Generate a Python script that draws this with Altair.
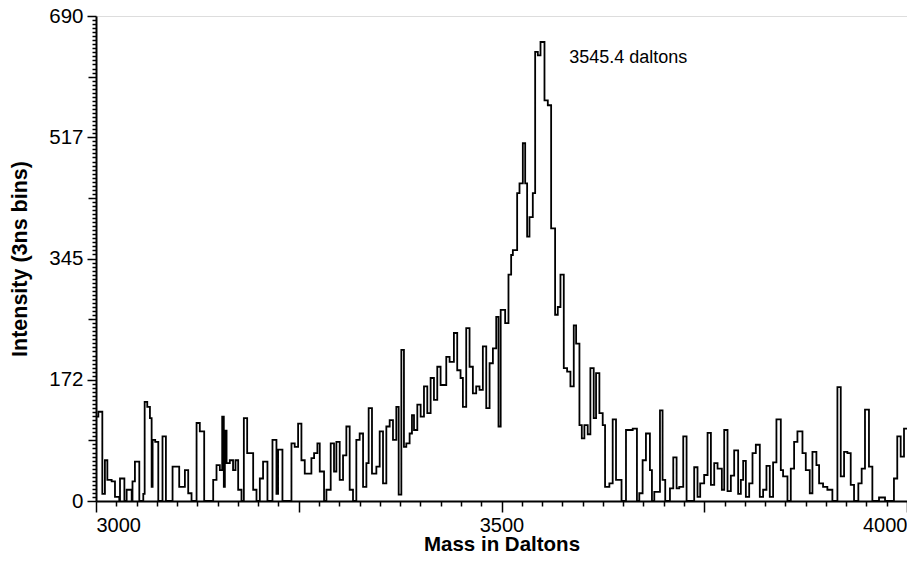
import altair as alt
import pandas as pd

# Step-spectrum: bin start mass (Daltons) and intensity (counts per 3ns bin)
mass = [
    3000, 3002.9, 3007.8, 3011, 3014, 3019.3, 3023.4, 3028.7, 3029.6, 3035,
    3037.8, 3044, 3045, 3048, 3053.4, 3058.3, 3060, 3063.2, 3066.5, 3068.6,
    3069.8, 3073, 3076.8, 3082, 3086.2, 3094.4, 3102.6, 3109.6, 3113.7, 3117.8,
    3124, 3128, 3133.4, 3144.5, 3148.6, 3152.7, 3155.6, 3157.6, 3158.9, 3161,
    3165, 3169, 3172, 3175.3, 3179.4, 3182.3, 3186.4, 3193.8, 3197.9, 3202,
    3206, 3211.4, 3217.6, 3222.5, 3224.5, 3229.9, 3241, 3245,
    3249.2, 3253.3, 3257.4, 3265.6, 3268.9, 3273, 3275.9, 3281.2, 3284.1, 3289.4,
    3293.5, 3296.4, 3300.5, 3304.6, 3308.7, 3312.8, 3316.9, 3321, 3325.1, 3329.3,
    3333.4, 3336.2, 3340.3, 3345.7, 3349.8, 3353.9, 3358, 3362.1, 3366.2, 3370.3,
    3373.2, 3376.5, 3379.7, 3382.6, 3386.7, 3389.6, 3392.1, 3396.2, 3400.3, 3404.4,
    3408.5, 3412.6, 3416.7, 3420.8, 3424.9, 3431.9, 3436, 3441.3, 3445.4, 3449.5,
    3452.4, 3456.5, 3460.6, 3464.7, 3468.8, 3472.9, 3477, 3481.2, 3485.3, 3489.4,
    3493.5, 3496.3, 3499,
    3504.5, 3508.6, 3511.9, 3514, 3519.3, 3522.2, 3526.3, 3529.2, 3531.6, 3534.5,
    3538.6, 3541.5, 3544.8, 3548.1, 3553, 3557.1, 3561.2, 3566.1, 3569.4, 3572.7,
    3576.8, 3580.9, 3585, 3589.1, 3592, 3596.1, 3599, 3602.2, 3606.3, 3609.6,
    3613.7, 3616.6, 3620.7, 3624.8, 3627.7, 3633, 3637.1, 3641.2, 3648, 3653.5,
    3661.8, 3667,
    3669.9, 3674, 3678.1, 3683, 3685.5, 3688.4, 3695.4, 3698.6, 3701.9, 3707.7,
    3711.8, 3715.9, 3719.2, 3724.1, 3728.2, 3737.6, 3741.7, 3745, 3749.9, 3754.1,
    3758.2, 3762.3, 3766.4, 3771.7, 3774.6, 3778.7, 3782.8, 3786.9, 3791.8, 3795.1,
    3798, 3801.3, 3805.4, 3809.5, 3813.6, 3818.5, 3822.6, 3826.7, 3830.8, 3834.9,
    3839, 3844.4, 3847.2, 3852.6, 3856.7, 3860.8, 3864.9, 3871.1, 3875.2, 3880.1,
    3883.4, 3888.3, 3891.6, 3896.5, 3901.8, 3908, 3914.2, 3918.3, 3922.4, 3926.5,
    3930.6, 3934.7, 3940, 3944.1, 3948.2, 3953.1, 3957.3, 3965.5, 3972.9, 3983.9,
    3988, 3992.2, 3996.3, 4000,
]
intensity = [
    120, 127, 10, 58, 30, 28, 6, 0, 32, 0,
    16, 0, 28, 56, 0, 10, 141, 134, 118, 20,
    87, 84, 0, 92, 0, 49, 20, 44, 11, 0,
    111, 99, 0, 30, 51, 44, 120, 20, 100, 54,
    58, 44, 58, 16, 0, 118, 68, 16, 0, 32,
    56, 0, 87, 10, 73, 0, 82, 77,
    110, 58, 39, 61, 68, 82, 42, 0, 16, 82,
    42, 84, 30, 65, 106, 16, 0, 87, 96, 20,
    54, 132, 39, 49, 99, 25, 106, 115, 87, 134,
    9, 215, 77, 82, 96, 122, 101, 137, 120, 163,
    125, 175, 144, 191, 165, 205, 198, 239, 186, 175,
    134, 246, 191, 153, 163, 158, 220, 132, 196, 217,
    262, 106, 272,
    253, 322, 350, 357, 438, 452, 509, 452, 376, 404,
    438, 639, 634, 653, 570, 563, 388, 265, 276, 322,
    189, 184, 163, 250, 224, 108, 89, 108, 95, 189,
    118, 182, 125, 108, 20, 25, 116, 30, 0, 101,
    103, 0,
    11, 58, 96, 44, 0, 13, 129, 30, 0, 18,
    62, 18, 20, 92, 0, 48, 6, 25, 37, 97,
    23, 54, 46, 16, 101, 14, 36, 72, 10, 30,
    57, 6, 25, 68, 80, 6, 16, 50, 6, 55,
    116, 44, 35, 0, 46, 84, 99, 68, 44, 11,
    70, 51, 25, 20, 16, 0, 162, 35, 70, 68,
    23, 0, 25, 46, 130, 49, 0, 5, 0, 32,
    92, 63, 103, 103,
]

ann_mass = [3583.5]
ann_int = [630]
ann_text = ["3545.4 daltons"]

x_ticks = [3000 + 25 * i for i in range(41)]
y_ticks = [5.75 * i for i in range(121)]

FONT = "Liberation Sans, Arial, Helvetica, sans-serif"
W, H = 811, 485

df = pd.DataFrame({"mass": mass, "intensity": intensity})
ann = pd.DataFrame({"mass": ann_mass, "intensity": ann_int, "label": ann_text})

x_axis = alt.Axis(
    values=x_ticks,
    format="d",
    labelExpr="datum.value % 500 === 0 ? datum.label : ''",
    labelFlush=True,
    labelOverlap=False,
    tickSize={"condition": {"test": "datum.value % 250 === 0", "value": 11}, "value": 5},
    tickWidth=1.5,
    tickColor="black",
    domainColor="black",
    domainWidth=2,
    grid=False,
    labelFont=FONT,
    labelFontSize=20,
    labelColor="black",
    labelPadding=3,
    title="Mass in Daltons",
    titleFont=FONT,
    titleFontSize=20.5,
    titleFontWeight="bold",
    titleColor="black",
    titleX=W / 2,
    titleY=33,
    titleBaseline="top",
)

y_axis = alt.Axis(
    values=y_ticks,
    labelExpr="datum.value % 172.5 === 0 ? '' + floor(datum.value) : ''",
    labelOverlap=False,
    tickSize={
        "condition": [
            {"test": "datum.value % 172.5 === 0", "value": 9},
            {"test": "datum.value % 86.25 === 0", "value": 8},
        ],
        "value": 4,
    },
    tickWidth=1.5,
    tickColor="black",
    domainColor="black",
    domainWidth=2,
    grid=False,
    labelFont=FONT,
    labelFontSize=20.5,
    labelColor="black",
    labelPadding=4,
    title="Intensity (3ns bins)",
    titleFont=FONT,
    titleFontSize=21.5,
    titleFontWeight="bold",
    titleColor="black",
    titleX=-76,
    titleY=H / 2,
    titleBaseline="middle",
)

xs = alt.Scale(domain=[3000, 4000], nice=False, zero=False)
ys = alt.Scale(domain=[0, 690], nice=False)

line = alt.Chart(df).mark_line(
    interpolate="step-after", color="black", strokeWidth=1.8, clip=True
).encode(
    x=alt.X("mass:Q", scale=xs, axis=x_axis),
    y=alt.Y("intensity:Q", scale=ys, axis=y_axis),
)

text = alt.Chart(ann).mark_text(
    align="left", baseline="middle", font=FONT, fontSize=18, color="black"
).encode(
    x=alt.X("mass:Q", scale=xs, axis=x_axis),
    y=alt.Y("intensity:Q", scale=ys, axis=y_axis),
    text="label:N",
)

chart = (
    alt.layer(line, text)
    .properties(
        width=W,
        height=H,
        autosize=alt.AutoSizeParams(type="none"),
        padding={"left": 88, "top": 8, "right": 0, "bottom": 52},
    )
    .configure_view(stroke="black", strokeWidth=2)
    .configure(background="white")
)

chart.save("out.html", embed_options={"renderer": "svg", "actions": False})
